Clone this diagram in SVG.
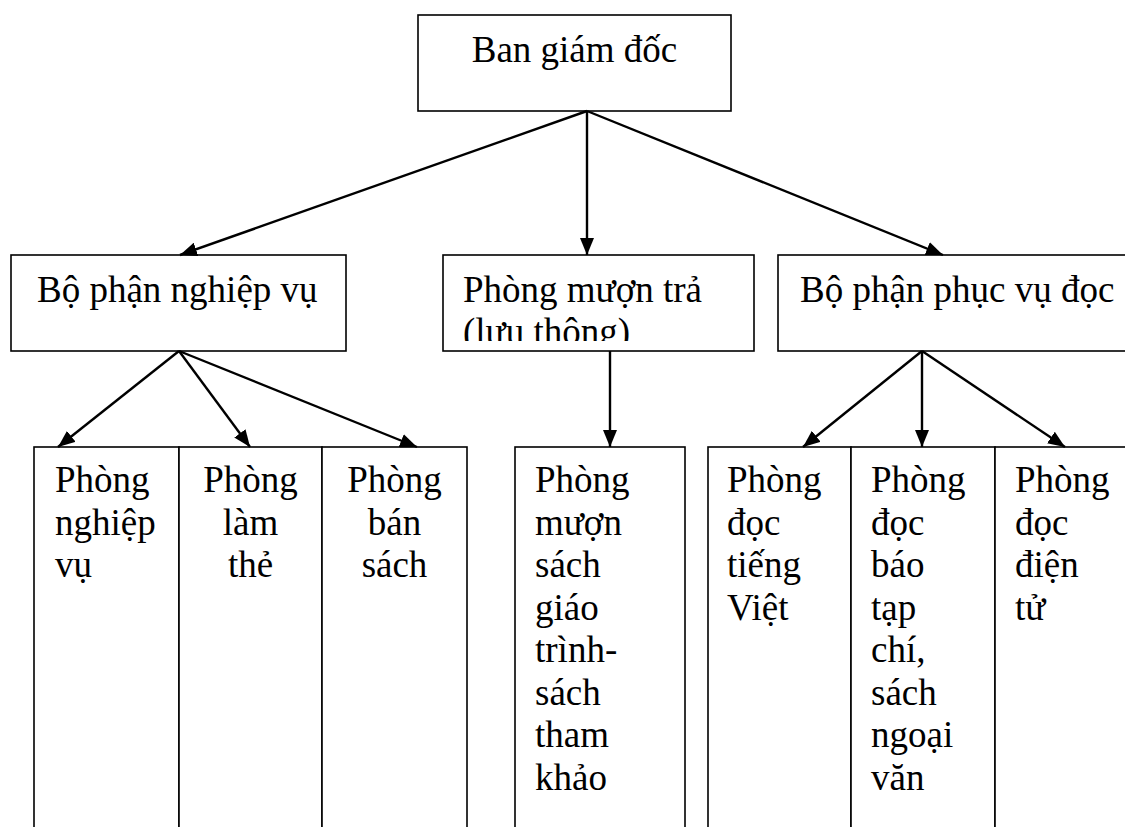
<svg xmlns="http://www.w3.org/2000/svg" width="1125" height="827" viewBox="0 0 1125 827">
<style>
  .box { fill: #fff; stroke: #000; stroke-width: 1.6; }
  .t { font-family: "Liberation Serif", "Times New Roman", serif; font-size: 37px; fill: #000; }
  .c { text-anchor: middle; }
  .conn line { stroke: #000; stroke-width: 2.4; marker-end: url(#ah); }
</style>
<defs>
  <marker id="ah" viewBox="0 0 17 14" refX="17" refY="7" markerWidth="17" markerHeight="14" markerUnits="userSpaceOnUse" orient="auto">
    <path d="M0,0 L17,7 L0,14 z" fill="#000"/>
  </marker>
  <clipPath id="clip3"><rect x="443" y="255" width="311" height="86"/></clipPath>
</defs>
<rect width="1125" height="827" fill="#fff"/>

<g id="n-ban-giam-doc">
  <rect class="box" x="418" y="15" width="313" height="96"/>
  <text class="t c" x="574.5" y="62">Ban giám đốc</text>
</g>

<g id="n-bo-phan-nghiep-vu">
  <rect class="box" x="11" y="255" width="335" height="96"/>
  <text class="t" x="37" y="302">Bộ phận nghiệp vụ</text>
</g>

<g id="n-phong-muon-tra">
  <rect class="box" x="443" y="255" width="311" height="96"/>
  <g clip-path="url(#clip3)">
    <text class="t" x="463" y="302">Phòng mượn trả</text>
    <text class="t" x="463" y="344">(lưu thông)</text>
  </g>
</g>

<g id="n-bo-phan-phuc-vu-doc">
  <rect class="box" x="778" y="255" width="360" height="96"/>
  <text class="t" x="800" y="302">Bộ phận phục vụ đọc</text>
</g>

<g id="n-phong-nghiep-vu">
  <rect class="box" x="34" y="447" width="145" height="400"/>
  <text class="t" x="55" y="492">Phòng</text>
  <text class="t" x="55" y="534.5">nghiệp</text>
  <text class="t" x="55" y="577">vụ</text>
</g>

<g id="n-phong-lam-the">
  <rect class="box" x="179" y="447" width="143" height="400"/>
  <text class="t c" x="250.5" y="492">Phòng</text>
  <text class="t c" x="250.5" y="534.5">làm</text>
  <text class="t c" x="250.5" y="577">thẻ</text>
</g>

<g id="n-phong-ban-sach">
  <rect class="box" x="322" y="447" width="145" height="400"/>
  <text class="t c" x="394.5" y="492">Phòng</text>
  <text class="t c" x="394.5" y="534.5">bán</text>
  <text class="t c" x="394.5" y="577">sách</text>
</g>

<g id="n-phong-muon-sach">
  <rect class="box" x="515" y="447" width="170" height="400"/>
  <text class="t" x="535" y="492">Phòng</text>
  <text class="t" x="535" y="534.5">mượn</text>
  <text class="t" x="535" y="577">sách</text>
  <text class="t" x="535" y="619.5">giáo</text>
  <text class="t" x="535" y="662">trình-</text>
  <text class="t" x="535" y="704.5">sách</text>
  <text class="t" x="535" y="747">tham</text>
  <text class="t" x="535" y="789.5">khảo</text>
</g>

<g id="n-phong-doc-tieng-viet">
  <rect class="box" x="708" y="447" width="143" height="400"/>
  <text class="t" x="727" y="492">Phòng</text>
  <text class="t" x="727" y="534.5">đọc</text>
  <text class="t" x="727" y="577">tiếng</text>
  <text class="t" x="727" y="619.5">Việt</text>
</g>

<g id="n-phong-doc-bao">
  <rect class="box" x="851" y="447" width="144" height="400"/>
  <text class="t" x="871" y="492">Phòng</text>
  <text class="t" x="871" y="534.5">đọc</text>
  <text class="t" x="871" y="577">báo</text>
  <text class="t" x="871" y="619.5">tạp</text>
  <text class="t" x="871" y="662">chí,</text>
  <text class="t" x="871" y="704.5">sách</text>
  <text class="t" x="871" y="747">ngoại</text>
  <text class="t" x="871" y="789.5">văn</text>
</g>

<g id="n-phong-doc-dien-tu">
  <rect class="box" x="995" y="447" width="150" height="400"/>
  <text class="t" x="1015" y="492">Phòng</text>
  <text class="t" x="1015" y="534.5">đọc</text>
  <text class="t" x="1015" y="577">điện</text>
  <text class="t" x="1015" y="619.5">tử</text>
</g>

<g id="connectors" class="conn">
  <line x1="587" y1="111" x2="180" y2="255"/>
  <line x1="587" y1="111" x2="587" y2="255"/>
  <line x1="587" y1="111" x2="943" y2="255"/>
  <line x1="179" y1="351" x2="58" y2="447"/>
  <line x1="179" y1="351" x2="250" y2="447"/>
  <line x1="179" y1="351" x2="417" y2="447"/>
  <line x1="610" y1="351" x2="610" y2="447"/>
  <line x1="922" y1="351" x2="803" y2="447"/>
  <line x1="922" y1="351" x2="922" y2="447"/>
  <line x1="922" y1="351" x2="1065" y2="447"/>
</g>
</svg>
